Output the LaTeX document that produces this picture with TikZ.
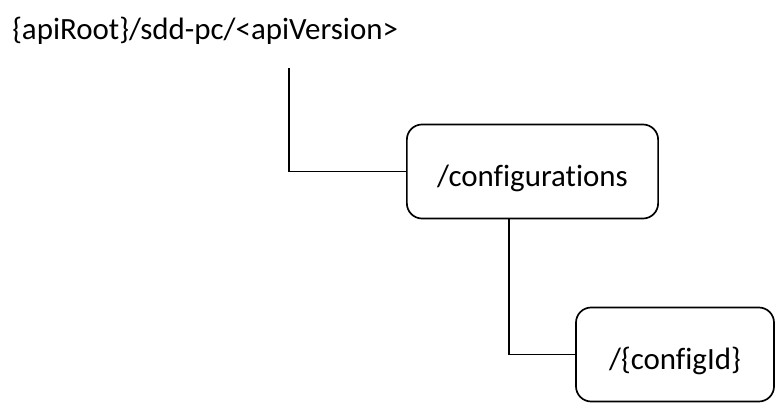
\documentclass[tikz,border=0pt]{standalone}
\usepackage{fontspec}
\setmainfont{Carlito}[Ligatures=NoCommon]
\usepackage{tikz}
\usetikzlibrary{positioning, calc}

\begin{document}
\begin{tikzpicture}[
    x=0.025cm, y=-0.025cm,
    res/.style={rectangle, draw=black, line width=1.2pt, rounded corners=0.38cm,
                minimum height=2.35cm, text height=21pt, text depth=0pt,
                align=center, font=\fontsize{22}{26}\selectfont},
    link/.style={line width=1.2pt}
]
\useasboundingbox (0,0) rectangle (775,420);

\node[anchor=west, inner sep=0pt, font=\fontsize{22}{26}\selectfont] (root) at (12,31) {\{apiRoot\}/sdd-pc/<apiVersion>};
\node[res, minimum width=6.28cm] (conf) at (532.5,171.5) {/configurations};
\node[res, minimum width=4.95cm] (cid) at (675,354.5) {/\{configId\}};

\coordinate (stem) at (289,68);
\coordinate (confstem) at ($(conf.south)+(-23.5,0)$);

\draw[link] (stem) |- (conf.west);
\draw[link] (confstem) |- (cid.west);

\end{tikzpicture}
\end{document}
